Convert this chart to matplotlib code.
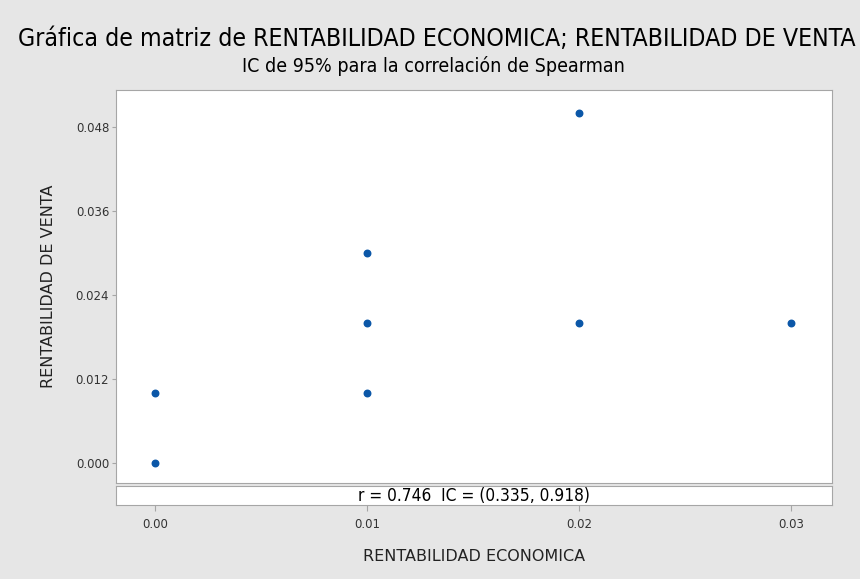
import matplotlib.pyplot as plt
from matplotlib import font_manager

# data
econ = [0.00, 0.00, 0.01, 0.01, 0.01, 0.02, 0.02, 0.03]
venta = [0.000, 0.010, 0.010, 0.020, 0.030, 0.050, 0.020, 0.020]
xticks = [0.00, 0.01, 0.02, 0.03]
yticks = [0.000, 0.012, 0.024, 0.036, 0.048]
title = 'Gráfica de matriz de RENTABILIDAD ECONOMICA; RENTABILIDAD DE VENTA'
subtitle = 'IC de 95% para la correlación de Spearman'
note = 'r = 0.746  IC = (0.335, 0.918)'

bg = '#e6e6e6'
edge = '#a6a6a6'
blue = '#0b57a8'

# look for a narrow font, the original uses a condensed face
narrow = None
for f in font_manager.fontManager.ttflist:
    if 'Narrow' in f.name or f.stretch in ('condensed', 'semi-condensed'):
        narrow = f
        break
if narrow is not None:
    nfont = dict(family=narrow.name, stretch=narrow.stretch)
    tsize, ssize, nsize = 17.85, 14, 12.4
else:
    nfont = dict(family='DejaVu Sans')
    tsize, ssize, nsize = 15.8, 11.3, 9.5

fig = plt.figure(figsize=(8.6, 5.79), dpi=100, facecolor=bg)

# main scatter panel
ax = fig.add_axes([0.135, 0.1658, 0.832, 0.6788])
ax.scatter(econ, venta, s=22, color=blue, zorder=3)
ax.set_xlim(-0.00184, 0.0319)
ax.set_ylim(-0.00286, 0.0533)
ax.set_yticks(yticks)
ax.set_yticklabels(['%.3f' % v for v in yticks], fontsize=8.5, color='#333333')
ax.set_xticks([])
ax.tick_params(axis='y', length=3, color=edge, pad=2)
for s in ax.spines.values():
    s.set_color(edge)
ax.set_ylabel('RENTABILIDAD DE VENTA', fontsize=11.5, color='#222222', labelpad=14)

# strip with the correlation
ax2 = fig.add_axes([0.135, 0.1278, 0.832, 0.0328])
ax2.set_xlim(-0.00184, 0.0319)
ax2.set_ylim(0, 1)
ax2.set_yticks([])
ax2.set_xticks(xticks)
ax2.set_xticklabels(['%.2f' % v for v in xticks], fontsize=8.5, color='#333333')
ax2.tick_params(axis='x', length=4, color=edge, pad=5)
for s in ax2.spines.values():
    s.set_color(edge)
ax2.text(0.5, 0.45, note, transform=ax2.transAxes, ha='center', va='center',
         fontsize=nsize, **nfont)
ax2.set_xlabel('RENTABILIDAD ECONOMICA', fontsize=11.5, color='#222222', labelpad=13)

fig.text(0.508, 0.933, title, ha='center', va='center', fontsize=tsize, **nfont)
fig.text(0.504, 0.886, subtitle, ha='center', va='center', fontsize=ssize, **nfont)

fig.savefig('out.png', dpi=100, facecolor=bg)
